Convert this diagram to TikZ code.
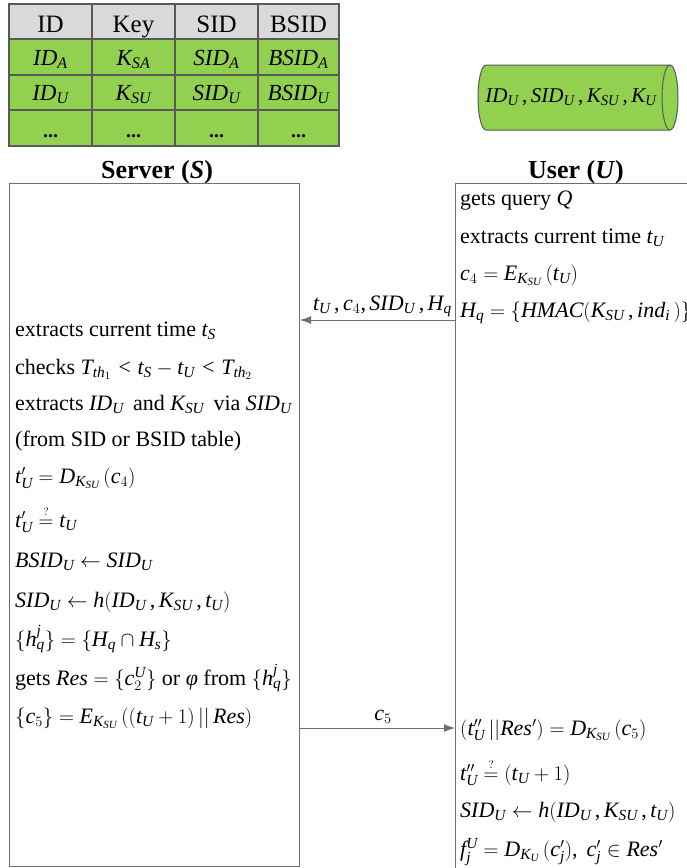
\documentclass[tikz,border=0pt]{standalone}
\usepackage{amsmath}
\usepackage{fontspec}
\setmainfont{Liberation Serif}
\DeclareSymbolFont{letters}{TU}{\rmdefault}{m}{it}
\mathcode`\,="602C
\usetikzlibrary{arrows.meta}
\definecolor{cellgreen}{HTML}{92D050}
\definecolor{cellgray}{HTML}{D9D9D9}
\definecolor{linegray}{HTML}{595959}
\definecolor{boxgray}{HTML}{6E6E6E}
\newcommand{\myphi}{\text{\itshape φ}}
\newcommand{\qeq}{\overset{\scriptscriptstyle ?}{=}}
\begin{document}
\begin{tikzpicture}[x=1pt,y=-1pt,
  body/.style={anchor=base west,inner sep=0pt,font=\fontsize{22}{26}\selectfont},
  hdr/.style={anchor=base,inner sep=0pt,font=\fontsize{25}{30}\selectfont},
  cell/.style={anchor=base,inner sep=0pt,font=\fontsize{23}{28}\selectfont},
  lbl/.style={anchor=base,inner sep=0pt,font=\fontsize{26}{30}\selectfont\bfseries},
  msg/.style={draw=boxgray,line width=1pt,-{Latex[length=11pt,width=8pt]}},
  panel/.style={draw=boxgray,line width=1pt,rectangle,inner sep=0pt}]
\useasboundingbox (0,0) rectangle (687,868);
\clip (0,0) rectangle (687,868);

% table
\fill[cellgray] (9,4) rectangle (339,39);
\fill[cellgreen] (9,39) rectangle (339,146);
\draw[linegray,line width=1.5pt] (9,4) rectangle (339,146);
\foreach \y in {39,75,110} \draw[linegray,line width=1.5pt] (9,\y) -- (339,\y);
\foreach \x in {92,175,258} \draw[linegray,line width=1.5pt] (\x,4) -- (\x,146);
\node[hdr] (h1) at (50.5,32) {ID};
\node[hdr] (h2) at (133.5,32) {Key};
\node[hdr] (h3) at (216.5,32) {SID};
\node[hdr] (h4) at (298.5,32) {BSID};
\node[cell] (a1) at (50.5,65) {$ID_A$};
\node[cell] (a2) at (133.5,65) {$K_{SA}$};
\node[cell] (a3) at (216.5,65) {$SID_A$};
\node[cell] (a4) at (298.5,65) {$BSID_A$};
\node[cell] (b1) at (50.5,100) {$ID_U$};
\node[cell] (b2) at (133.5,100) {$K_{SU}$};
\node[cell] (b3) at (216.5,100) {$SID_U$};
\node[cell] (b4) at (298.5,100) {$BSID_U$};
\node[cell,font=\fontsize{20}{24}\selectfont\bfseries] (c1) at (50.5,137) {...};
\node[cell,font=\fontsize{20}{24}\selectfont\bfseries] (c2) at (133.5,137) {...};
\node[cell,font=\fontsize{20}{24}\selectfont\bfseries] (c3) at (216.5,137) {...};
\node[cell,font=\fontsize{20}{24}\selectfont\bfseries] (c4) at (298.5,137) {...};

% cylinder
\path[fill=cellgreen,draw=linegray,line width=1pt]
  (486,65) -- (670,65) arc(-90:90:8 and 32.5) -- (486,130) arc(90:270:8 and 32.5) -- cycle;
\draw[linegray,line width=1pt] (670,65) arc(270:90:8 and 32.5);
\node[cell,font=\fontsize{21}{26}\selectfont] (store) at (571,102) {$ID_U\,, SID_U\,, K_{SU}\,, K_U$};

% labels
\node[lbl] (slbl) at (157,178) {Server (\textit{S})};
\node[lbl] (ulbl) at (576,178) {User (\textit{U})};

% panels
\node[panel,anchor=north west,minimum width=290pt,minimum height=683pt] (server) at (9,183) {};
\node[panel,anchor=north west,minimum width=300pt,minimum height=720pt] (user) at (455,183) {};

% user lines (top)
\node[body] (u1) at (460,205) {gets query $Q$};
\node[body] (u2) at (460,243) {extracts current time $t_U$};
\node[body] (u3) at (460,280) {$c_4 = E_{K_{SU}}\,(t_U)$};
\node[body] (u4) at (460,317) {$H_q = \{HMAC(K_{SU}\,, ind_i\,)\}$};

% message 1
\coordinate (m1) at (0,320);
\draw[msg] (user.west |- m1) -- (server.east |- m1);
\node[body,anchor=base east] (m1lbl) at (452,310) {$t_U\,, c_4, SID_U\,, H_q$};

% server lines
\node[body] (s1) at (15,336) {extracts current time $t_S$};
\node[body] (s2) at (15,374) {checks $T_{th_1} < t_S - t_U < T_{th_2}$};
\node[body] (s3) at (15,410) {extracts $ID_U$\, and $K_{SU}$\, via $SID_U$};
\node[body] (s4) at (15,446) {(from SID or BSID table)};
\node[body] (s5) at (15,483) {$t'_U = D_{K_{SU}}\,(c_4)$};
\node[body] (s6) at (15,527) {$t'_U \qeq t_U$};
\node[body] (s7) at (15,567) {$BSID_U \leftarrow SID_U$};
\node[body] (s8) at (15,607) {$SID_U \leftarrow h(ID_U\,, K_{SU}\,, t_U)$};
\node[body] (s9) at (15,646) {$\{h_q^j\} = \{H_q \cap H_s\}$};
\node[body] (s10) at (15,685) {gets $Res = \{c_2^U\}$ or $\myphi$ from $\{h_q^j\}$};
\node[body] (s11) at (15,723) {$\{c_5\} = E_{K_{SU}}\,((t_U + 1) \,||\, Res)$};

% message 2
\coordinate (m2) at (0,728);
\draw[msg] (server.east |- m2) -- (user.west |- m2);
\node[body,anchor=base] (m2lbl) at (383,720) {$c_5$};

% user lines (bottom)
\node[body] (u5) at (460,735) {$(t''_U \,||Res') = D_{K_{SU}}\,(c_5)$};
\node[body] (u6) at (460,780) {$t''_U \qeq (t_U + 1)$};
\node[body] (u7) at (460,817) {$SID_U \leftarrow h(ID_U\,, K_{SU}\,, t_U)$};
\node[body] (u8) at (460,856) {$f_j^U = D_{K_U}\,(c'_j),\ c'_j \in Res'$};
\end{tikzpicture}
\end{document}
